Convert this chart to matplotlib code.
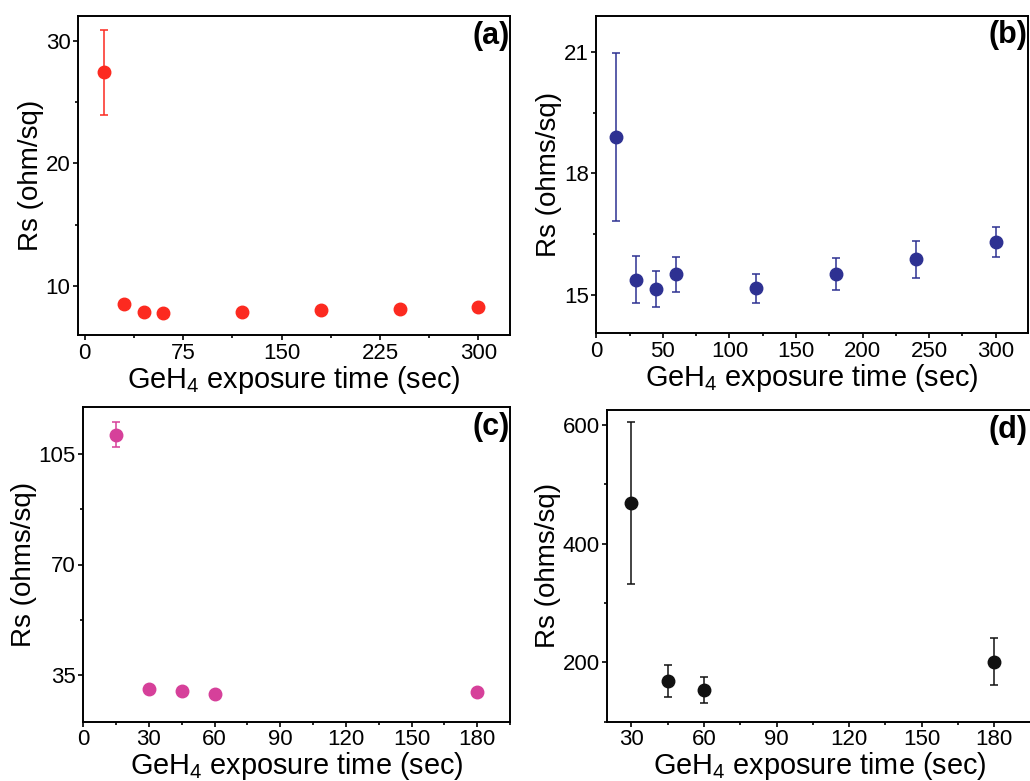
import matplotlib
matplotlib.use("Agg")
import matplotlib.pyplot as plt
from matplotlib.ticker import MultipleLocator

plt.rcParams['font.family'] = ['Liberation Sans', 'DejaVu Sans']
plt.rcParams['mathtext.fontset'] = 'custom'
plt.rcParams['mathtext.rm'] = 'Liberation Sans'
plt.rcParams['mathtext.it'] = 'Liberation Sans:italic'
plt.rcParams['mathtext.bf'] = 'Liberation Sans:bold'

# Data
x_a = [15, 30, 45, 60, 120, 180, 240, 300]
y_a = [27.4, 8.53, 7.90, 7.82, 7.90, 8.01, 8.12, 8.29]
e_a = [3.45, 0, 0, 0, 0, 0, 0, 0]

x_b = [15, 30, 45, 60, 120, 180, 240, 300]
y_b = [18.90, 15.37, 15.14, 15.50, 15.15, 15.50, 15.87, 16.30]
e_b = [2.08, 0.58, 0.45, 0.43, 0.36, 0.40, 0.45, 0.38]

x_c = [15, 30, 45, 60, 180]
y_c = [111.3, 30.45, 29.8, 28.75, 29.3]
e_c = [4.0, 0, 0, 0, 0]

x_d = [30, 45, 60, 180]
y_d = [468.7, 168.5, 153.9, 201.0]
e_d = [136, 27, 22, 40]

xlabel = 'GeH$_4$ exposure time (sec)'

fig = plt.figure(figsize=(10.30, 7.81), dpi=100)

W, H = 1030, 781
def rect(l, r, t, b):
    return [l / W, 1 - b / H, (r - l) / W, (b - t) / H]

panels = [
    dict(rect=rect(78, 510, 16, 335), x=x_a, y=y_a, e=e_a, color='#fc2a20',
         xlim=(-5, 324), ylim=(6, 32), xmaj=75, xmin=37.5, ymaj=10, ymin=5,
         ylabel='Rs (ohm/sq)', tag='(a)'),
    dict(rect=rect(596.3, 1027.7, 15.7, 333.3), x=x_b, y=y_b, e=e_b, color='#2e3192',
         xlim=(0, 324), ylim=(14.04, 21.9), xmaj=50, xmin=25, ymaj=3, ymin=1.5,
         ylabel='Rs (ohms/sq)', tag='(b)'),
    dict(rect=rect(83.3, 510, 407.3, 721.7), x=x_c, y=y_c, e=e_c, color='#d6409a',
         xlim=(0, 195), ylim=(20, 120), xmaj=30, xmin=15, ymaj=35, ymin=17.5,
         ylabel='Rs (ohms/sq)', tag='(c)'),
    dict(rect=rect(607.3, 1033, 410, 721.7), x=x_d, y=y_d, e=e_d, color='#111111',
         xlim=(20, 196), ylim=(100, 625), xmaj=30, xmin=15, ymaj=200, ymin=100,
         ylabel='Rs (ohms/sq)', tag='(d)'),
]

for p in panels:
    ax = fig.add_axes(p['rect'])
    ax.errorbar(p['x'], p['y'], yerr=p['e'], fmt='o', color=p['color'],
                markersize=9, elinewidth=1.1, capsize=3, capthick=1.1)
    ax.set_xlim(*p['xlim'])
    ax.set_ylim(*p['ylim'])
    ax.xaxis.set_major_locator(MultipleLocator(p['xmaj']))
    ax.xaxis.set_minor_locator(MultipleLocator(p['xmin']))
    ax.yaxis.set_major_locator(MultipleLocator(p['ymaj']))
    ax.yaxis.set_minor_locator(MultipleLocator(p['ymin']))
    ax.tick_params(which='both', direction='out', top=False, right=False,
                   labelsize=16, width=1.2, pad=2)
    ax.tick_params(which='major', length=3.5)
    ax.tick_params(which='minor', length=2.5)
    for s in ax.spines.values():
        s.set_linewidth(1.4)
    ax.set_xlabel(xlabel, fontsize=20.8, labelpad=0)
    ax.set_ylabel(p['ylabel'], fontsize=20, labelpad=1)
    if p['tag'] == '(d)':
        fig.text(1028 / W, 1 - 415 / H, p['tag'], ha='right', va='top',
                 fontsize=22, fontweight='bold')
    else:
        ax.text(1.0, 0.985, p['tag'], transform=ax.transAxes, ha='right', va='top',
                fontsize=22, fontweight='bold')

fig.savefig('out.png', dpi=100)
